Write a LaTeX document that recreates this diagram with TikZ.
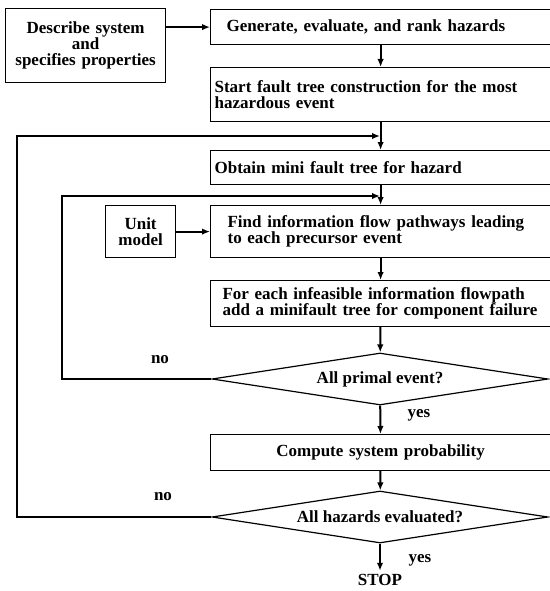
\documentclass[tikz,border=0pt]{standalone}
\usepackage{fontspec}
\setmainfont{Liberation Serif}
\usetikzlibrary{shapes.geometric,arrows.meta}

\begin{document}
\begin{tikzpicture}[x=1pt,y=1pt]
    \tikzstyle{every node}+=[font=\bfseries\fontsize{17}{16}\selectfont]
    \tikzstyle{stepbox}=[draw, line width=1.2pt, anchor=north west, inner ysep=0pt, align=left]
    \tikzstyle{testbox}=[draw, diamond, aspect=6.46, line width=1.2pt, inner sep=0pt, minimum width=336pt, minimum height=52pt]
    \tikzstyle{flow}=[line width=2pt, -{Latex[length=8pt,width=6.5pt]}]
    \useasboundingbox (0,0) rectangle (549,-591);
    \node [stepbox, align=center, text width=156pt, inner xsep=2pt, minimum height=74pt] (desc) at (5,-8) {Describe system\\and\\specifies properties};
    \node [stepbox, text width=308pt, inner xsep=16pt, minimum height=35pt] (gen) at (210,-9) {Generate, evaluate, and rank hazards};
    \node [stepbox, text width=332pt, inner xsep=4pt, minimum height=54pt] (start) at (210,-67) {Start fault tree construction for the most\\hazardous event};
    \node [stepbox, text width=332pt, inner xsep=4pt, minimum height=34pt] (obtain) at (210,-150) {Obtain mini fault tree for hazard};
    \node [stepbox, text width=306pt, inner xsep=17pt, minimum height=52pt] (find) at (210,-205) {Find information flow pathways leading\\to each precursor event};
    \node [stepbox, align=center, text width=66pt, inner xsep=2pt, minimum height=52pt] (unit) at (105,-205) {Unit\\model};
    \node [stepbox, text width=324pt, inner xsep=8pt, minimum height=46pt] (infeas) at (210,-280) {\hspace*{4pt}For each infeasible information flowpath\\\hspace*{4pt}add a minifault tree for component failure};
    \node [testbox] (primal) at (380,-379) {All primal event?};
    \node [stepbox, align=center, text width=336pt, inner xsep=2pt, minimum height=36pt] (prob) at (210,-434) {Compute system probability};
    \node [testbox] (allhaz) at (380,-517) {All hazards evaluated?};
    \node (stop) at (380,-580) {STOP};
    \node (no1) at (160,-360) {no};
    \node (no2) at (163,-497) {no};
    \node (yes1) at (419,-415) {yes};
    \node (yes2) at (420,-560) {yes};
    \coordinate (back1) at (17,-136);
    \coordinate (join1) at (380,-136);
    \coordinate (back2) at (62,-196);
    \coordinate (join2) at (380,-196);
    \draw [flow] (desc.east |- gen.west) -- (gen.west);
    \draw [flow] (gen) -- (start);
    \draw [flow] (start) -- (obtain);
    \draw [flow] (obtain) -- (find);
    \draw [flow] (unit.east |- find.west) -- (find.west);
    \draw [flow] (find) -- (infeas);
    \draw [flow] (infeas) -- (primal);
    \draw [flow] (primal) -- (prob);
    \draw [flow] (prob) -- (allhaz);
    \draw [flow] (allhaz) -- (stop);
    \draw [flow] (primal.west) -| (back2) -- (join2);
    \draw [flow] (allhaz.west) -| (back1) -- (join1);
\end{tikzpicture}
\end{document}
